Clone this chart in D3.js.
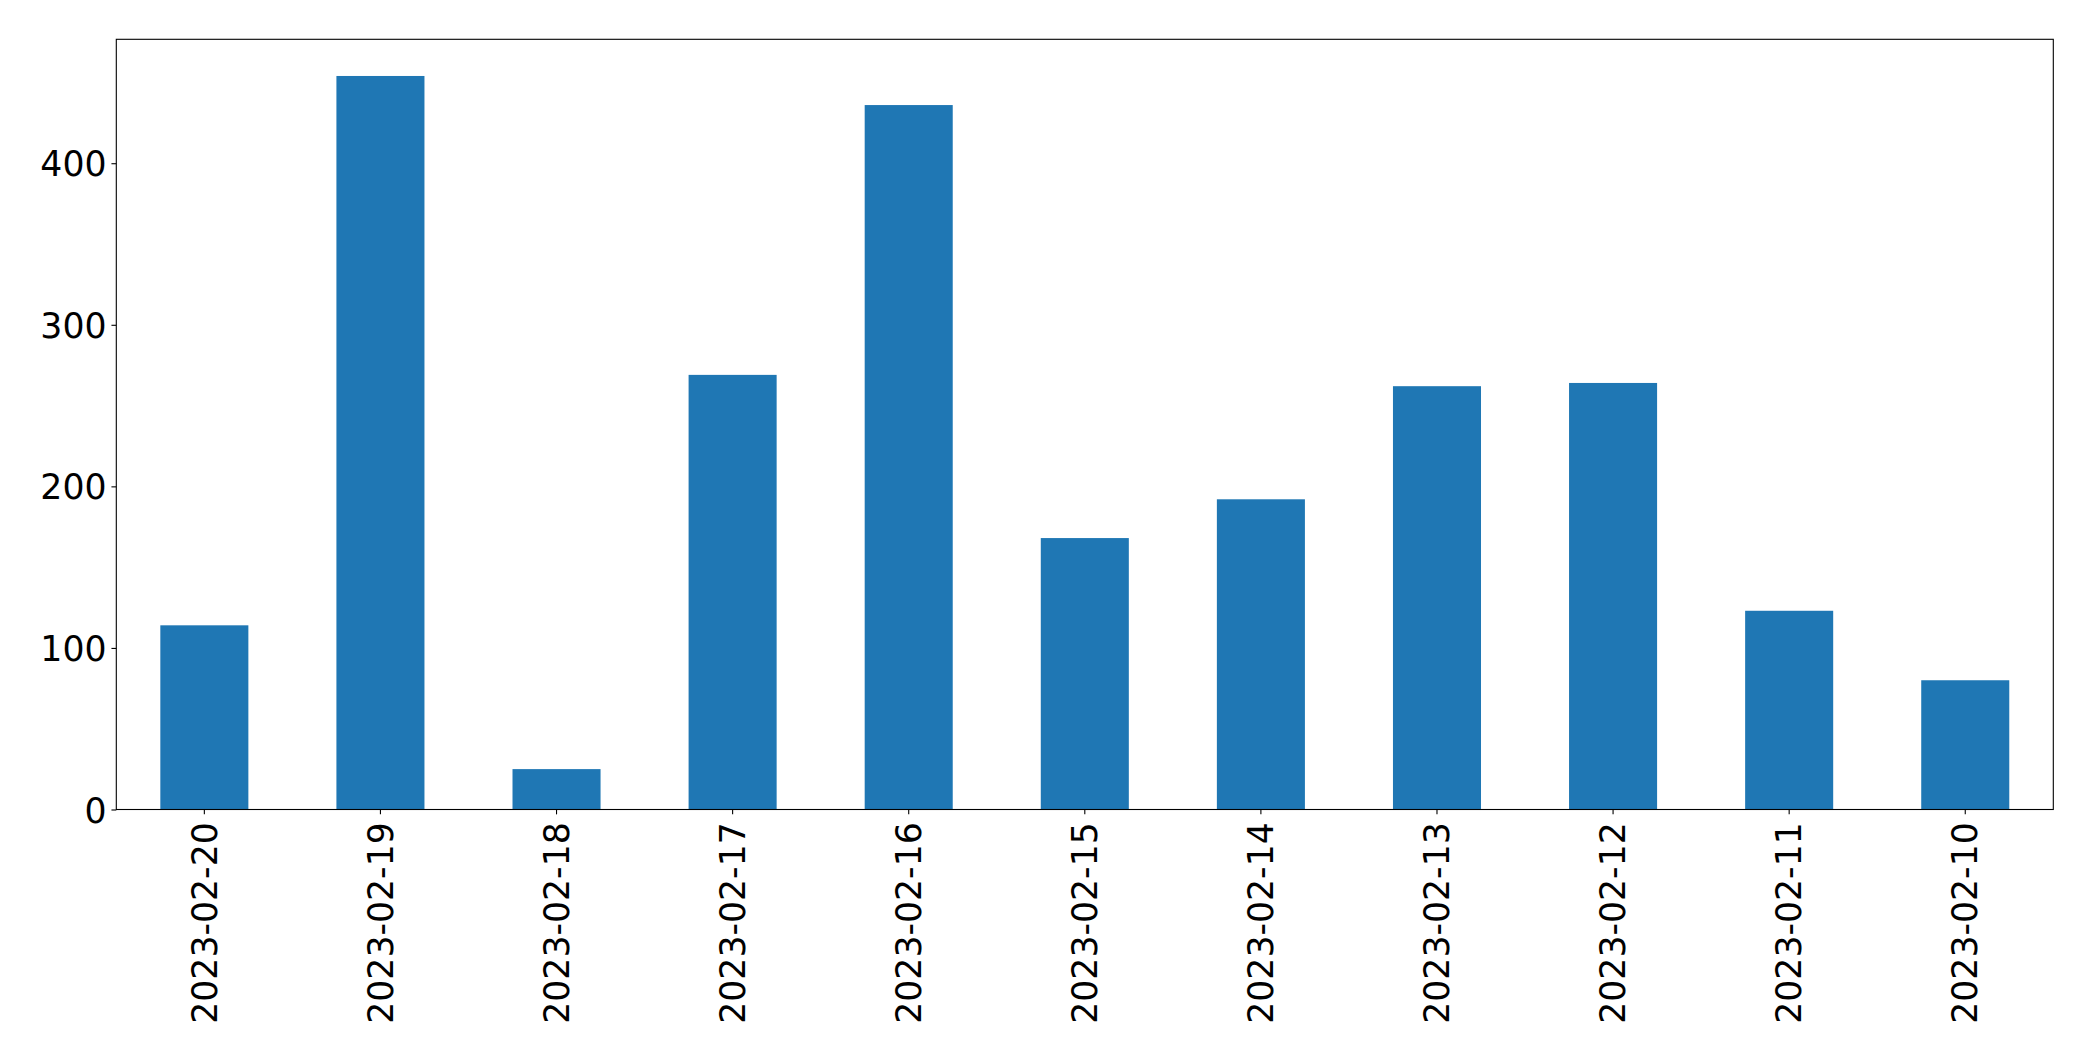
<!DOCTYPE html>
<html>
<head>
<meta charset="utf-8">
<script src="https://cdn.jsdelivr.net/npm/d3@7"></script>
<style>
  html, body { margin: 0; padding: 0; background: #fff; }
  svg { display: block; }
  text { font-family: "DejaVu Sans", sans-serif; }
</style>
</head>
<body>
<svg id="chart" width="2093" height="1061"></svg>
<script>
const categories = ["2023-02-20","2023-02-19","2023-02-18","2023-02-17","2023-02-16","2023-02-15","2023-02-14","2023-02-13","2023-02-12","2023-02-11","2023-02-10"];
const values = [114, 454, 25, 269, 436, 168, 192, 262, 264, 123, 80];
const yTicks = [0, 100, 200, 300, 400];

const W = 2093, H = 1061;
const margin = {left: 116.3, right: W - 2053.3, top: 39.3, bottom: H - 809.5};
const iw = W - margin.left - margin.right;
const ih = H - margin.top - margin.bottom;

const svg = d3.select("#chart");
const g = svg.append("g").attr("transform", `translate(${margin.left},${margin.top})`);

const x = d3.scaleBand().domain(categories).range([0, iw]).paddingInner(0.5).paddingOuter(0.25);
const yMax = d3.max(values) * 1.05;
const y = d3.scaleLinear().domain([0, yMax]).range([ih, 0]);

g.selectAll("rect.bar").data(values).enter().append("rect")
  .attr("class", "bar")
  .attr("x", (d, i) => x(categories[i]))
  .attr("width", x.bandwidth())
  .attr("y", d => y(d))
  .attr("height", d => y(0) - y(d))
  .attr("fill", "#1f77b4");

const fs = 34.7;
const tickLen = 4.86, pad = 4.86;

// y axis
const yAxis = d3.axisLeft(y).tickValues(yTicks).tickSize(tickLen).tickPadding(pad).tickFormat(d3.format("d"));
const ya = g.append("g").call(yAxis);
ya.select(".domain").remove();
ya.selectAll(".tick line").attr("stroke", "#000").attr("stroke-width", 1.1);
ya.selectAll(".tick text").attr("font-size", fs).attr("fill", "#000").attr("font-family", "DejaVu Sans").attr("dy", "0.36em");

// x axis
const xAxis = d3.axisBottom(x).tickSize(tickLen).tickPadding(pad);
const xa = g.append("g").attr("transform", `translate(0,${ih})`).call(xAxis);
xa.select(".domain").remove();
xa.selectAll(".tick line").attr("stroke", "#000").attr("stroke-width", 1.1);
xa.selectAll(".tick text")
  .attr("font-size", fs).attr("fill", "#000").attr("font-family", "DejaVu Sans")
  .attr("text-anchor", "end")
  .attr("y", 0).attr("x", 0)
  .attr("dy", "0.35em")
  .attr("transform", `translate(0,${tickLen + pad + 3}) rotate(-90)`);

// frame
g.append("rect").attr("x", 0).attr("y", 0).attr("width", iw).attr("height", ih)
  .attr("fill", "none").attr("stroke", "#000").attr("stroke-width", 1.1);
</script>
</body>
</html>
